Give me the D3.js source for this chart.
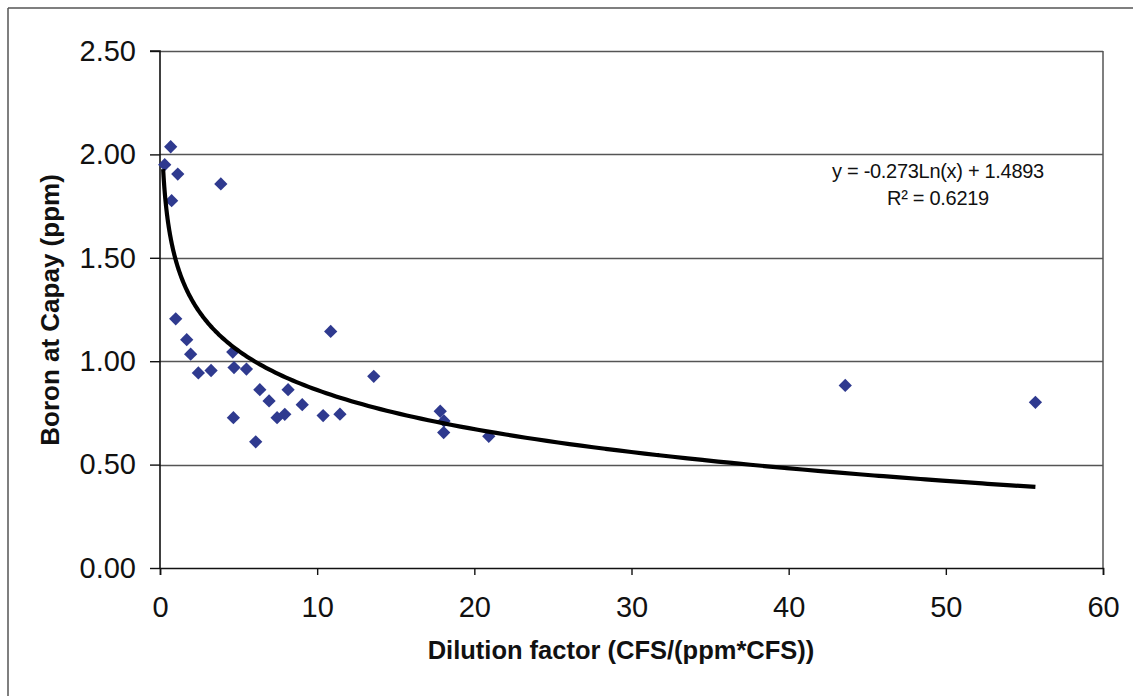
<!DOCTYPE html>
<html><head><meta charset="utf-8">
<script src="https://cdn.jsdelivr.net/npm/d3@7/dist/d3.min.js"></script>
<style>body{margin:0;background:#fff}svg{display:block}text{font-family:Arial,"Liberation Sans",sans-serif}</style>
</head><body><svg id="c" width="1133" height="696"></svg>
<script>
const dilution = [0.68,0.3,1.13,3.87,0.74,1.0,1.7,1.95,2.44,3.25,4.63,4.71,5.5,6.35,6.94,8.15,7.45,7.94,9.05,4.67,6.09,10.38,11.45,10.86,13.6,17.83,18.07,18.05,20.92,43.6,55.7];
const boron    = [2.037,1.95,1.905,1.857,1.776,1.205,1.104,1.034,0.943,0.955,1.044,0.969,0.962,0.862,0.808,0.862,0.727,0.743,0.79,0.727,0.61,0.737,0.744,1.144,0.927,0.758,0.711,0.655,0.637,0.883,0.801];
const yTicks = [0,0.5,1.0,1.5,2.0,2.5];
const xTicks = [0,10,20,30,40,50,60];
const trendSlope = -0.273, trendIntercept = 1.4893;
const trendRange = [0.2, 55.7];
const eqLines = ["y = -0.273Ln(x) + 1.4893", "R² = 0.6219"];
const xTitle = "Dilution factor (CFS/(ppm*CFS))";
const yTitle = "Boron at Capay (ppm)";

const svg = d3.select("#c");
const L=160,R=1103,T=51,B=568;
const x = d3.scaleLinear().domain([0,60]).range([L,R]);
const y = d3.scaleLinear().domain([0,2.5]).range([B,T]);

// outer frame
svg.append("line").attr("x1",8).attr("x2",8).attr("y1",8).attr("y2",696).attr("stroke","#555").attr("stroke-width",1.5);
svg.append("line").attr("x1",8).attr("x2",1133).attr("y1",8).attr("y2",8).attr("stroke","#555").attr("stroke-width",1.5);

// gridlines
svg.append("g").selectAll("line").data(yTicks.filter(d=>d>0)).join("line")
  .attr("x1",L).attr("x2",R).attr("y1",d=>Math.round(y(d))+0.5).attr("y2",d=>Math.round(y(d))+0.5)
  .attr("stroke","#555").attr("stroke-width",1.3);
// right border
svg.append("line").attr("x1",R).attr("x2",R).attr("y1",T).attr("y2",B).attr("stroke","#555").attr("stroke-width",1.5);

// axes
const ya = svg.append("g").attr("transform",`translate(${L},0)`)
  .call(d3.axisLeft(y).tickValues(yTicks).tickFormat(d3.format(".2f")).tickSize(10).tickPadding(14));
const xa = svg.append("g").attr("transform",`translate(0,${B})`)
  .call(d3.axisBottom(x).tickValues(xTicks).tickSize(7).tickPadding(21));
[ya,xa].forEach(a=>{a.select(".domain").attr("stroke","#111").attr("stroke-width",1.6);
  a.selectAll(".tick line").attr("stroke","#111").attr("stroke-width",1.4);
  a.selectAll("text").attr("font-size",29).attr("fill","#111").attr("font-family","Arial, Liberation Sans, sans-serif");});
ya.select(".domain").attr("d",`M-10,${T}H0V${B}`);

// points (square diamonds)
const sym = d3.symbol().type(d3.symbolSquare).size(88);
svg.append("g").selectAll("path").data(dilution.map((d,i)=>[d,boron[i]])).join("path")
  .attr("d",sym).attr("transform",d=>`translate(${x(d[0])},${y(d[1])}) rotate(45)`)
  .attr("fill","#2f3a8f");

// trendline
const tx = d3.range(0,201).map(i=>trendRange[0]*Math.pow(trendRange[1]/trendRange[0],i/200));
svg.append("path").datum(tx)
  .attr("d",d3.line().x(d=>x(d)).y(d=>y(trendSlope*Math.log(d)+trendIntercept)).curve(d3.curveMonotoneX))
  .attr("fill","none").attr("stroke","#000").attr("stroke-width",4.2);

// equation
svg.append("g").selectAll("text").data(eqLines).join("text")
  .attr("x",938).attr("y",(d,i)=>178+i*27).attr("text-anchor","middle")
  .attr("font-size",20).attr("fill","#111").attr("letter-spacing",-0.3).text(d=>d);

// titles
svg.append("text").attr("x",621).attr("y",659).attr("text-anchor","middle")
  .attr("font-size",25.5).attr("font-weight","bold").attr("fill","#111").text(xTitle);
svg.append("text").attr("transform","translate(59,310) rotate(-90)").attr("text-anchor","middle")
  .attr("font-size",26).attr("font-weight","bold").attr("fill","#111").text(yTitle);
</script></body></html>
